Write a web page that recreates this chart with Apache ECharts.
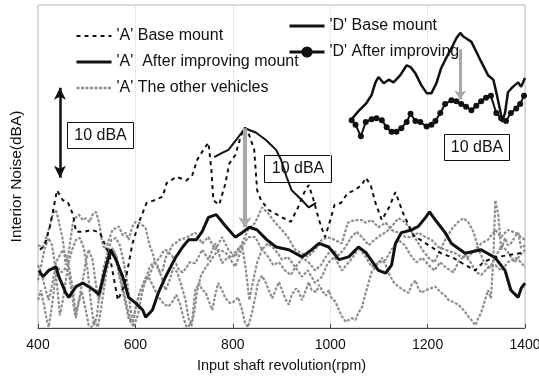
<!DOCTYPE html>
<html>
<head>
<meta charset="utf-8">
<script src="https://cdn.jsdelivr.net/npm/echarts@6/dist/echarts.min.js"></script>
<style>
  html, body { margin: 0; background: #fff; }
  #chart { width: 539px; height: 377px; }
</style>
</head>
<body>
<div id="chart"></div>
<script>
// x axis ticks (rpm)
const xTicks = [400, 600, 800, 1000, 1200, 1400]

const nameABase = "'A' Base mount"
const nameAAfter = "'A'  After improving mount"
const nameAOther = "'A' The other vehicles"
const nameDBase = "'D' Base mount"
const nameDAfter = "'D' After improving"

// 'A' base mount (dashed) [rpm, dBA]
const aBase = [[404,48.7],[414,49.2],[425,51.4],[439,55.3],[451,54.2],[461,54.0],[472,52.6],[478,50.7],[496,50.7],[510,50.9],[527,50.6],[547,48.1],[564,43.1],[578,44.8],[594,49.4],[609,52.0],[623,53.9],[639,54.2],[656,54.6],[664,56.1],[684,56.8],[705,56.4],[717,57.0],[727,58.7],[742,60.0],[750,60.6],[756,57.6],[760,54.2],[772,53.7],[784,55.9],[793,58.3],[805,59.2],[817,61.4],[825,62.3],[834,61.4],[844,59.8],[850,55.3],[858,54.2],[874,53.1],[901,52.3],[919,51.8],[934,53.4],[946,55.0],[956,55.9],[966,54.2],[977,52.0],[989,50.1],[997,51.4],[1009,53.7],[1022,53.9],[1036,55.0],[1050,55.3],[1065,55.9],[1073,56.7],[1083,55.9],[1093,53.9],[1106,52.0],[1120,53.3],[1134,55.1],[1142,53.9],[1151,52.6],[1171,50.3],[1202,49.2],[1228,48.3],[1253,47.8],[1277,47.0],[1298,46.4],[1314,47.3],[1335,47.8],[1365,48.1],[1400,48.4]]

// solid upper trace around the 'A' peak
const aPeak = [[762,59.0],[776,59.4],[791,59.8],[807,60.9],[825,62.2],[848,61.7],[868,60.9],[889,59.8],[899,58.7],[911,56.7],[921,55.3],[942,54.2],[956,53.4],[971,53.9]]

// 'A' after improving mount (thick)
const aAfter = [[402,46.4],[410,45.7],[422,46.4],[437,46.8],[443,45.7],[457,43.9],[463,43.4],[478,44.6],[492,45.0],[504,44.6],[515,44.2],[525,43.7],[539,46.7],[549,48.7],[560,47.6],[574,45.7],[586,43.4],[600,42.8],[615,42.0],[621,41.2],[635,42.0],[647,43.9],[662,45.7],[682,47.8],[697,49.0],[709,49.8],[725,49.8],[737,50.7],[750,52.3],[766,52.6],[784,51.4],[805,50.1],[819,50.6],[834,51.2],[850,50.9],[870,49.8],[889,49.0],[915,48.7],[942,47.9],[962,48.7],[977,49.4],[997,49.0],[1018,47.6],[1038,47.9],[1058,49.0],[1073,48.4],[1099,46.4],[1114,46.1],[1126,47.0],[1134,49.4],[1146,50.6],[1167,50.9],[1181,51.3],[1196,52.3],[1204,52.9],[1216,52.0],[1236,50.6],[1249,49.4],[1277,48.3],[1310,48.7],[1339,47.8],[1359,46.4],[1371,44.2],[1386,43.4],[1392,44.4],[1400,45.0]]

// 'A' the other vehicles (four gray traces)
const other1 = [[400,49.2],[410,49.0],[422,50.9],[431,52.8],[437,53.1],[443,51.8],[451,49.8],[457,47.0],[463,48.4],[472,51.8],[478,52.3],[484,52.6],[492,52.0],[498,52.2],[506,51.8],[512,52.6],[519,52.9],[525,51.8],[533,49.2],[539,48.7],[547,50.0],[553,50.9],[560,51.1],[566,51.3],[574,50.3],[580,50.6],[586,49.8],[594,51.3],[600,51.8],[607,51.7],[615,51.4],[621,51.1],[629,49.2],[635,48.4],[641,47.2],[650,46.2],[656,46.4],[662,47.8],[668,48.4],[676,49.2],[682,49.4],[690,49.8],[703,50.0],[713,50.3],[723,50.6],[737,49.4],[750,50.1],[764,48.7],[778,50.1],[791,48.7],[805,47.9],[819,49.4],[831,50.9],[846,51.7],[860,53.4],[872,52.8],[887,51.7],[901,50.9],[913,50.1],[928,48.7],[942,48.3],[954,47.9],[969,48.7],[983,49.8],[995,50.1],[1009,49.8],[1024,49.4],[1036,51.7],[1050,52.0],[1065,52.0],[1073,51.7],[1085,52.0],[1099,51.2],[1114,51.7],[1126,50.9],[1140,50.6],[1155,50.1],[1167,50.1],[1181,50.6],[1196,50.1],[1208,49.8],[1222,49.0],[1236,48.7],[1257,48.3],[1269,47.9],[1283,47.9],[1298,48.7],[1310,49.4],[1324,49.8],[1339,50.9],[1351,50.1],[1365,50.9],[1380,50.6],[1392,50.1],[1400,49.8]]
const other2 = [[400,47.0],[408,45.9],[416,44.2],[422,43.1],[431,45.3],[437,47.3],[445,48.1],[451,48.7],[459,47.8],[465,46.4],[472,44.2],[478,41.1],[484,43.1],[492,45.3],[498,47.3],[504,48.7],[512,47.6],[519,44.8],[525,43.1],[533,44.8],[539,47.0],[547,48.1],[553,48.9],[560,48.1],[566,45.9],[574,44.2],[580,42.6],[586,41.1],[594,40.3],[600,42.0],[607,43.7],[615,44.8],[621,45.6],[629,45.9],[635,46.7],[641,47.3],[650,47.8],[656,48.4],[662,48.7],[670,48.3],[676,48.0],[682,47.3],[690,46.4],[697,46.2],[705,46.7],[711,47.3],[723,47.2],[737,48.7],[750,47.6],[764,49.4],[778,47.2],[791,47.9],[805,46.8],[819,49.0],[831,50.1],[846,50.1],[860,48.7],[872,49.4],[887,48.7],[901,47.6],[913,47.9],[928,46.8],[942,45.7],[954,46.4],[969,45.0],[983,45.7],[995,47.2],[1009,47.9],[1024,46.4],[1038,47.3],[1050,48.1],[1058,49.0],[1073,47.9],[1085,46.8],[1099,47.2],[1114,47.6],[1126,48.7],[1140,49.8],[1153,49.2],[1165,48.1],[1177,47.3],[1189,47.8],[1202,47.0],[1214,46.4],[1226,47.3],[1238,46.7],[1253,46.2],[1263,47.3],[1277,48.1],[1288,47.3],[1300,46.2],[1310,45.9],[1324,46.7],[1339,47.0],[1351,46.4],[1365,47.3],[1380,47.8],[1392,47.3],[1400,46.7]]
const other3 = [[400,43.1],[406,44.2],[412,42.6],[418,40.9],[422,40.1],[429,42.6],[435,45.3],[441,46.7],[449,46.2],[457,46.7],[463,46.2],[470,43.7],[476,41.4],[482,42.6],[490,44.0],[498,42.0],[504,40.3],[510,40.1],[517,40.9],[523,40.1],[529,42.0],[535,44.2],[541,46.4],[547,47.6],[553,48.7],[562,47.8],[568,45.9],[576,44.0],[582,42.6],[588,41.1],[594,40.7],[602,42.6],[611,44.2],[619,45.1],[627,45.7],[635,44.8],[643,43.9],[652,43.1],[660,42.6],[668,42.4],[676,42.9],[684,43.7],[692,42.6],[699,41.1],[705,40.1],[711,40.3],[717,41.1],[723,44.2],[731,45.0],[737,44.2],[744,44.0],[752,42.8],[758,42.0],[764,43.7],[770,45.0],[778,44.2],[784,43.4],[793,42.8],[799,42.8],[805,43.1],[811,43.4],[819,42.0],[825,40.6],[831,40.1],[838,41.4],[846,43.4],[852,45.1],[860,45.8],[868,45.0],[874,44.2],[881,43.3],[889,44.4],[895,45.1],[901,44.2],[909,43.1],[915,42.6],[921,43.7],[930,44.4],[936,44.0],[942,43.1],[950,44.2],[956,45.1],[962,44.2],[971,44.0],[977,44.8],[983,44.2],[991,43.6],[997,44.2],[1003,43.3],[1011,42.9],[1018,42.0],[1024,41.3],[1032,40.7],[1038,40.9],[1044,41.1],[1052,40.9],[1058,41.7],[1065,42.3],[1073,43.9],[1079,45.1],[1085,46.2],[1093,46.8],[1099,47.3],[1106,47.8],[1114,47.0],[1120,46.1],[1130,45.1],[1140,44.6],[1151,44.2],[1161,43.9],[1167,44.8],[1175,45.3],[1181,44.4],[1187,43.9],[1196,44.2],[1206,44.4],[1216,44.6],[1226,44.0],[1236,43.6],[1243,43.1],[1253,42.9],[1263,42.6],[1269,42.3],[1277,41.8],[1283,41.3],[1290,40.9],[1298,40.3],[1304,41.1],[1310,41.7],[1318,43.1],[1324,44.2],[1330,43.3],[1335,47.6],[1339,54.2],[1345,52.6],[1351,48.7],[1359,50.0],[1365,49.2],[1371,49.4],[1380,50.2],[1386,50.6],[1392,48.9],[1400,49.2]]
const other4 = [[400,45.3],[408,47.3],[414,48.9],[422,50.0],[429,49.2],[435,47.0],[441,43.7],[445,41.4],[451,43.1],[457,45.3],[463,47.3],[470,48.7],[478,49.8],[486,50.0],[494,48.9],[502,46.4],[508,43.1],[515,40.3],[521,41.4],[527,44.2],[535,46.7],[543,48.4],[551,49.8],[560,50.0],[568,49.2],[576,47.3],[584,44.8],[590,42.0],[596,40.1],[605,41.4],[613,43.7],[621,45.3],[629,46.7],[637,47.3],[645,47.0],[654,45.6],[662,44.2],[670,45.3],[678,46.7],[686,46.2],[694,44.8],[703,43.1],[709,41.1],[715,40.2],[721,41.8],[727,44.2],[735,45.9],[744,46.7],[752,47.3],[762,48.1],[772,48.7],[784,48.4],[797,47.8],[809,48.7],[819,49.2],[827,46.4],[834,43.1],[840,44.8],[850,47.3],[860,48.7],[870,48.1],[883,47.0],[895,47.3],[907,46.4],[919,45.9],[932,47.0],[944,47.8],[956,47.3],[969,46.4],[981,47.0],[993,48.1],[1005,48.7],[1018,48.1],[1030,48.9],[1042,50.0],[1054,50.7],[1067,50.0],[1079,49.2],[1091,49.8],[1103,50.3],[1116,50.7],[1128,51.4],[1140,52.2],[1153,51.8],[1165,50.9],[1177,49.8],[1189,48.7],[1202,47.8],[1214,47.3],[1226,48.7],[1238,50.0],[1251,51.1],[1263,51.8],[1273,52.2],[1283,51.8],[1294,50.7],[1304,48.9],[1316,47.3],[1328,46.7],[1341,48.1],[1353,49.2],[1365,48.4],[1378,47.3],[1390,48.1],[1400,48.7]]

// 'D' vehicle (drawn in the upper right)
const dBase = [[1044,63.2],[1058,64.1],[1073,64.9],[1085,65.9],[1093,67.3],[1099,67.9],[1110,67.2],[1120,67.6],[1130,67.3],[1144,68.1],[1157,69.2],[1165,69.0],[1175,68.3],[1187,67.0],[1198,66.1],[1208,66.1],[1218,67.2],[1228,68.9],[1238,70.0],[1249,71.1],[1259,72.2],[1267,72.8],[1273,72.4],[1279,72.2],[1290,71.8],[1300,70.7],[1310,69.6],[1324,68.1],[1335,67.6],[1341,66.2],[1349,64.2],[1353,62.9],[1359,63.9],[1365,66.2],[1375,66.8],[1386,67.3],[1392,66.8],[1400,67.8]]
const dAfter = [[1044,63.1],[1052,62.6],[1063,61.3],[1073,62.9],[1085,63.2],[1095,63.3],[1106,63.1],[1116,62.3],[1126,61.8],[1136,61.8],[1146,62.2],[1157,62.9],[1165,63.8],[1175,63.0],[1185,62.9],[1198,62.4],[1208,62.6],[1216,63.0],[1226,63.9],[1236,64.9],[1249,65.3],[1259,65.2],[1269,64.9],[1279,64.6],[1290,64.2],[1300,64.7],[1310,65.2],[1320,65.6],[1330,65.8],[1341,63.9],[1351,63.3],[1361,63.0],[1371,63.9],[1382,64.4],[1390,64.9],[1398,65.8]]

// 10 dBA arrows: [rpm, from dBA, to dBA]
const arrowScale = [445, 66.7, 56.7]
const arrowA = [825, 62.2, 51.2]
const arrowD = [1267, 71.0, 65.4]

const font = "'Liberation Sans', Arial, sans-serif"
const grayLine = { color: '#8e8e8e', width: 2.2, type: [3, 1.5] }
const noMarker = { opacity: 0 }

let myChart = echarts.init(document.getElementById('chart'))

const otherSeries = [other1, other2, other3, other4].map((d) => ({
  name: nameAOther,
  type: 'line',
  data: d,
  symbol: 'circle',
  showSymbol: false,
  color: '#8e8e8e',
  itemStyle: noMarker,
  lineStyle: grayLine,
  z: 2,
}))

function box(x, y, w, h) {
  return {
    type: 'group',
    left: x,
    top: y,
    z: 100,
    children: [
      { type: 'rect', shape: { x: 0, y: 0, width: w, height: h }, style: { fill: '#fff', stroke: '#111', lineWidth: 1 } },
      { type: 'text', x: w / 2, y: h / 2, style: { text: '10 dBA', font: '16px ' + font, fill: '#111', align: 'center', verticalAlign: 'middle' } },
    ],
  }
}

myChart.setOption({
  animation: false,
  backgroundColor: '#fff',
  textStyle: { fontFamily: font },
  grid: { left: 38, right: 14, top: 5, bottom: 49, outerBoundsMode: 'none', show: true, borderColor: '#b8b8b8', borderWidth: 1 },
  legend: [
    {
      left: 70,
      top: 22,
      orient: 'vertical',
      itemWidth: 35,
      itemHeight: 14,
      itemGap: 8,
      data: [
        { name: nameABase, itemStyle: noMarker, lineStyle: { width: 2 } },
        { name: nameAAfter, itemStyle: noMarker, lineStyle: { width: 3 } },
        { name: nameAOther, itemStyle: noMarker, lineStyle: { width: 2.5 } },
      ],
      textStyle: { fontSize: 16, color: '#111', lineHeight: 18 },
    },
    {
      left: 283,
      top: 12,
      orient: 'vertical',
      itemWidth: 35,
      itemHeight: 14,
      itemGap: 8,
      data: [
        { name: nameDBase, itemStyle: noMarker, lineStyle: { width: 3 } },
        { name: nameDAfter, lineStyle: { width: 3 } },
      ],
      textStyle: { fontSize: 16, color: '#111', lineHeight: 18 },
    },
  ],
  xAxis: {
    type: 'value',
    min: xTicks[0],
    max: xTicks[xTicks.length - 1],
    interval: xTicks[1] - xTicks[0],
    name: 'Input shaft revolution(rpm)',
    nameLocation: 'middle',
    nameGap: 30,
    nameTextStyle: { fontSize: 14.5, color: '#111' },
    axisLine: { lineStyle: { color: '#444', width: 1 } },
    axisTick: { inside: true, length: 4, lineStyle: { color: '#444' } },
    axisLabel: { fontSize: 14, color: '#111', margin: 10, formatter: (v) => String(v) },
    splitLine: { show: true, lineStyle: { color: '#d4d4d4', type: 'dotted' } },
  },
  yAxis: {
    type: 'value',
    min: 40,
    max: 75.9,
    name: 'Interior Noise(dBA)',
    nameLocation: 'middle',
    nameGap: 13,
    nameRotate: 90,
    nameTextStyle: { fontSize: 15.5, color: '#111', padding: [0, 20, 0, 0] },
    axisLine: { show: false },
    axisTick: { show: false },
    axisLabel: { show: false },
    splitLine: { show: false },
  },
  graphic: [box(67, 122, 66, 26), box(264, 155, 67, 27), box(444, 134, 65, 26)],
  series: [
    ...otherSeries,
    {
      name: nameABase,
      type: 'line',
      data: aBase,
      symbol: 'circle',
      showSymbol: false,
      color: '#111',
      itemStyle: noMarker,
      lineStyle: { color: '#111', width: 2, type: [4, 4] },
      z: 3,
    },
    {
      name: 'peak',
      type: 'line',
      data: aPeak,
      symbol: 'none',
      lineStyle: { color: '#111', width: 2 },
      z: 3,
      markLine: {
        silent: true,
        symbol: ['none', 'arrow'],
        symbolSize: 10,
        label: { show: false },
        lineStyle: { color: '#a8a8a8', width: 4, type: 'solid' },
        data: [[{ coord: [arrowA[0], arrowA[1]] }, { coord: [arrowA[0], arrowA[2]] }]],
      },
    },
    {
      name: nameAAfter,
      type: 'line',
      data: aAfter,
      symbol: 'circle',
      showSymbol: false,
      color: '#111',
      itemStyle: noMarker,
      lineStyle: { color: '#111', width: 3 },
      z: 4,
      markLine: {
        silent: true,
        symbol: ['arrow', 'arrow'],
        symbolSize: [9, 12],
        label: { show: false },
        lineStyle: { color: '#111', width: 2.5, type: 'solid' },
        data: [[{ coord: [arrowScale[0], arrowScale[1]] }, { coord: [arrowScale[0], arrowScale[2]] }]],
      },
    },
    {
      name: nameDBase,
      type: 'line',
      data: dBase,
      symbol: 'circle',
      showSymbol: false,
      color: '#111',
      itemStyle: noMarker,
      lineStyle: { color: '#111', width: 2.5 },
      z: 4,
    },
    {
      name: nameDAfter,
      type: 'line',
      data: dAfter,
      symbol: 'circle',
      symbolSize: 6,
      showSymbol: true,
      color: '#111',
      itemStyle: { color: '#111' },
      lineStyle: { color: '#111', width: 2 },
      z: 4,
      markLine: {
        silent: true,
        symbol: ['none', 'arrow'],
        symbolSize: 9,
        label: { show: false },
        lineStyle: { color: '#a8a8a8', width: 3, type: 'solid' },
        data: [[{ coord: [arrowD[0], arrowD[1]] }, { coord: [arrowD[0], arrowD[2]] }]],
      },
    },
  ],
})

window.addEventListener('resize', () => {
  myChart.resize()
})
</script>
</body>
</html>
